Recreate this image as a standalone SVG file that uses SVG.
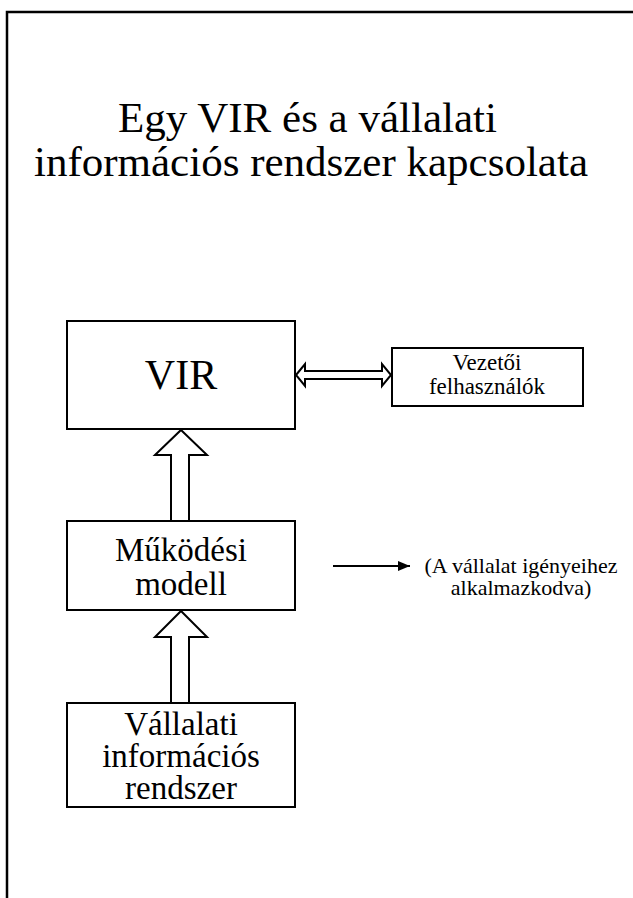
<svg xmlns="http://www.w3.org/2000/svg" width="633" height="898" viewBox="0 0 633 898">
  <style>
    text { font-family: "Liberation Serif", "Times New Roman", serif; fill: #000; }
    .title { font-size: 43px; }
    .big { font-size: 42px; text-anchor: middle; }
    .mid { font-size: 33px; text-anchor: middle; }
    .small { font-size: 22px; text-anchor: middle; }
    .label { font-size: 23px; text-anchor: middle; }
    .box { fill: #fff; stroke: #000; stroke-width: 2; }
    .block { fill: #fff; stroke: #000; stroke-width: 2; stroke-linejoin: miter; }
    .line { fill: none; stroke: #000; stroke-width: 2; }
  </style>
  <defs>
    <marker id="arrowhead" markerWidth="12" markerHeight="10" refX="12" refY="5" orient="auto" markerUnits="userSpaceOnUse">
      <path d="M0,0 L12,5 L0,10 Z" fill="#000"/>
    </marker>
  </defs>

  <!-- page frame -->
  <path d="M7,898 V12 H633" fill="none" stroke="#000" stroke-width="2.5"/>

  <!-- title -->
  <g id="title">
    <text class="title" x="118" y="132">Egy VIR és a vállalati</text>
    <text class="title" x="34" y="176">információs rendszer kapcsolata</text>
  </g>

  <!-- connectors -->
  <g id="connectors">
    <!-- VIR <-> Vezetői felhasználók (hollow double arrow) -->
    <path class="block" d="M296,375 L305,364 L305,371 L382,371 L382,364 L391,375 L382,386 L382,379 L305,379 L305,386 Z"/>
    <!-- Működési modell -> VIR (hollow block arrow) -->
    <path class="block" d="M181,430 L207,455 L189,455 L189,521 L171,521 L171,455 L155,455 Z"/>
    <!-- Vállalati információs rendszer -> Működési modell -->
    <path class="block" d="M181,611 L207,637 L189,637 L189,703 L171,703 L171,637 L155,637 Z"/>
    <!-- note arrow -->
    <line class="line" x1="333" y1="566" x2="410" y2="566" marker-end="url(#arrowhead)"/>
  </g>

  <g id="vir">
    <rect class="box" x="67" y="321" width="228" height="108"/>
    <text class="big" x="181" y="389">VIR</text>
  </g>

  <g id="vezetoi">
    <rect class="box" x="392" y="348" width="191" height="58"/>
    <text class="label" x="487" y="370">Vezetői</text>
    <text class="label" x="487" y="394">felhasználók</text>
  </g>

  <g id="mukodesi">
    <rect class="box" x="67" y="521" width="228" height="89"/>
    <text class="mid" x="181" y="561">Működési</text>
    <text class="mid" x="181" y="595">modell</text>
  </g>

  <g id="vallalati">
    <rect class="box" x="67" y="703" width="228" height="104"/>
    <text class="mid" x="181" y="735">Vállalati</text>
    <text class="mid" x="181" y="767">információs</text>
    <text class="mid" x="181" y="799">rendszer</text>
  </g>

  <g id="note">
    <text class="small" x="521" y="573">(A vállalat igényeihez</text>
    <text class="small" x="521" y="595">alkalmazkodva)</text>
  </g>
</svg>
